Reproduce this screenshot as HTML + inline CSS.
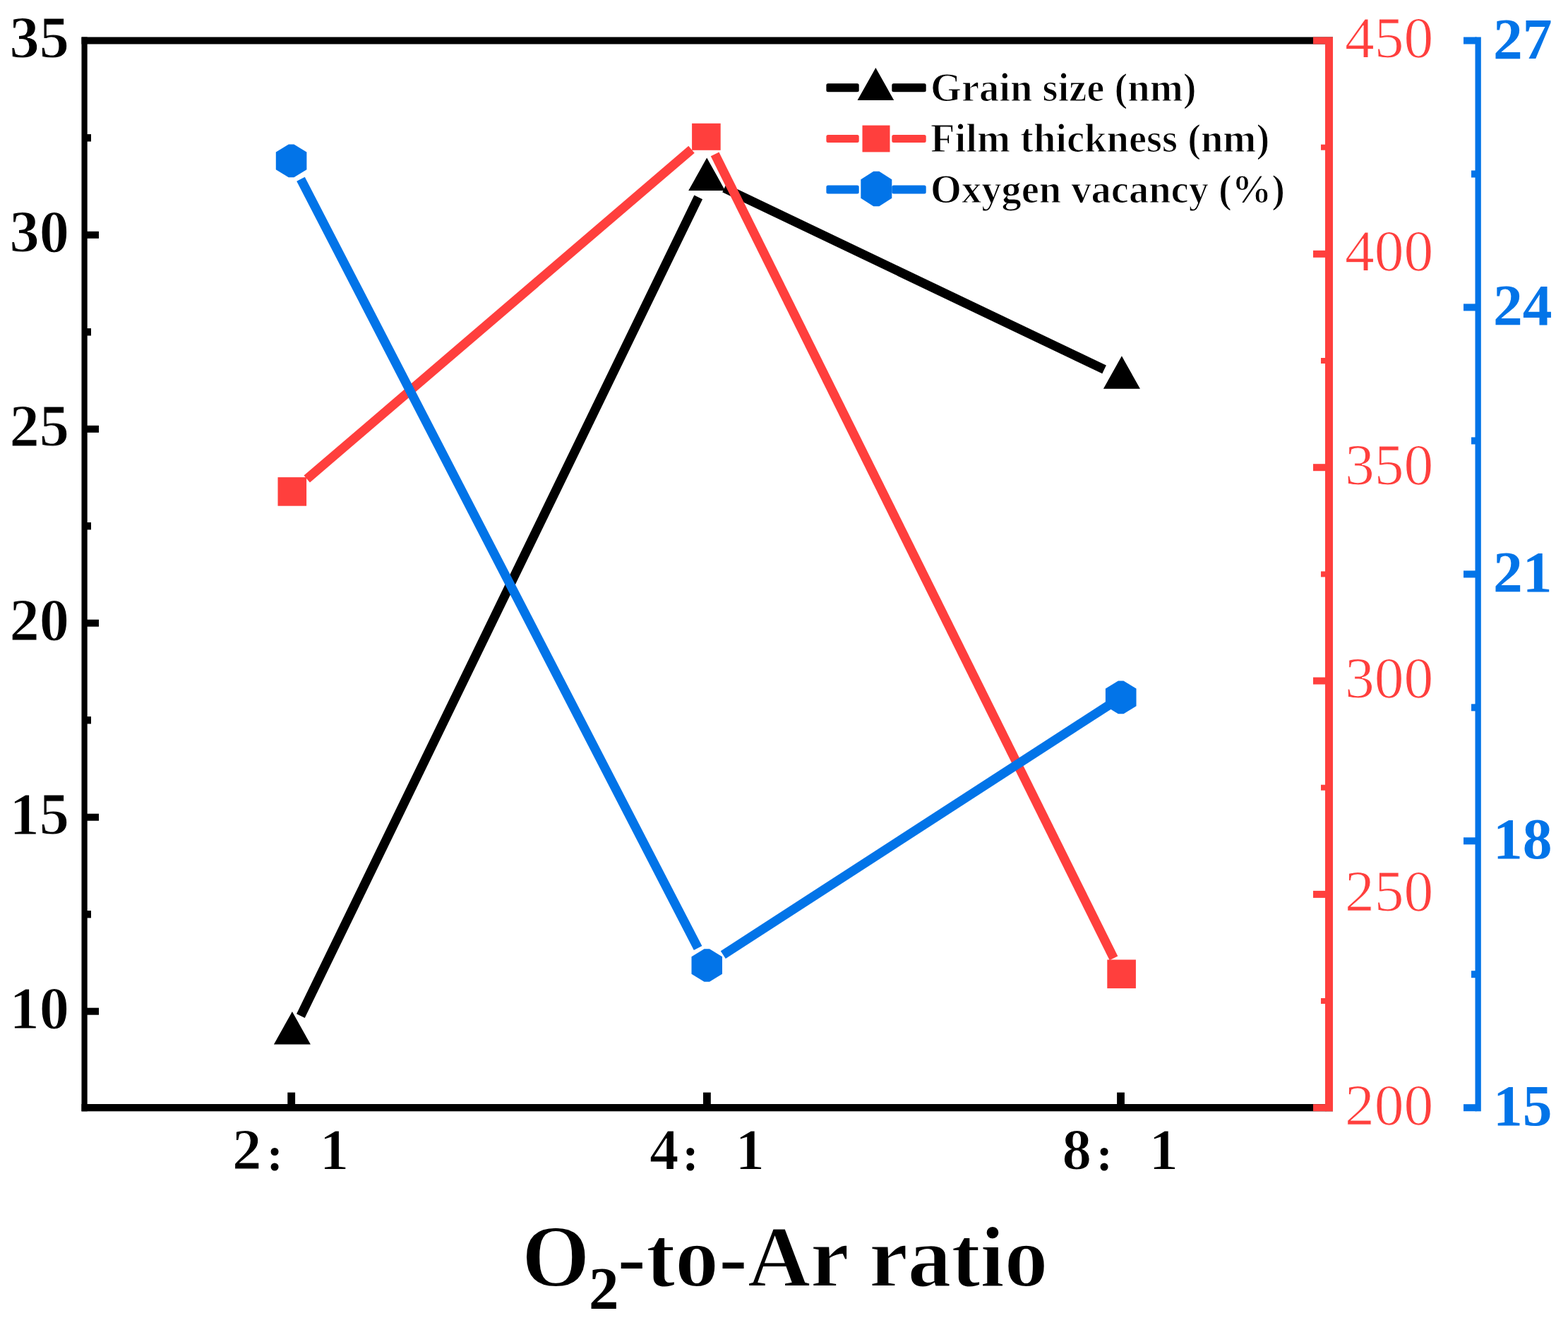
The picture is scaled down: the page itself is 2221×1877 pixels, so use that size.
<!DOCTYPE html><html><head><meta charset="utf-8"><title>O2-to-Ar ratio chart</title><style>html,body{margin:0;padding:0;background:#fff;}svg{display:block;}text{font-family:"Liberation Serif","Noto Serif CJK SC",serif;}</style></head><body>
<svg width="2221" height="1877" viewBox="0 0 2221 1877">
<rect x="0" y="0" width="2221" height="1877" fill="#fff"/>
<defs></defs>
<line x1="425.9" y1="1439.2" x2="989.2" y2="279.3" stroke="#000" stroke-width="13" stroke-linecap="butt"/>
<line x1="1026.0" y1="266.4" x2="1564.1" y2="523.4" stroke="#000" stroke-width="13" stroke-linecap="butt"/>
<line x1="434.7" y1="678.5" x2="979.5" y2="211.7" stroke="#FF3F3D" stroke-width="13" stroke-linecap="butt"/>
<line x1="1012.6" y1="218.4" x2="1577.5" y2="1357.4" stroke="#FF3F3D" stroke-width="13" stroke-linecap="butt"/>
<line x1="426.0" y1="253.7" x2="988.6" y2="1343.1" stroke="#0274E8" stroke-width="13" stroke-linecap="butt"/>
<line x1="1024.3" y1="1352.6" x2="1571.7" y2="998.2" stroke="#0274E8" stroke-width="13" stroke-linecap="butt"/>
<polygon points="413.9,1433.0 439.9,1479.4 387.9,1479.4" fill="#000"/>
<polygon points="1001.2,223.6 1027.2,270.0 975.2,270.0" fill="#000"/>
<polygon points="1588.9,504.3 1614.9,550.7 1562.9,550.7" fill="#000"/>
<rect x="393.5" y="676.1" width="40.6" height="40.6" fill="#FF3F3D"/>
<rect x="980.1" y="174.8" width="40.6" height="38.0" fill="#FF3F3D"/>
<rect x="1568.3" y="1359.5" width="40.6" height="40.6" fill="#FF3F3D"/>
<polygon points="408.8,204.6 416.4,204.6 434.4,215.6 434.4,240.2 416.4,251.2 408.8,251.2 390.8,240.2 390.8,215.6" fill="#0274E8"/>
<polygon points="997.5,1344.2 1005.0,1344.2 1023.0,1355.2 1023.0,1379.8 1005.0,1390.8 997.5,1390.8 979.5,1379.8 979.5,1355.2" fill="#0274E8"/>
<polygon points="1583.9,964.6 1591.5,964.6 1609.5,975.6 1609.5,1000.2 1591.5,1011.2 1583.9,1011.2 1565.9,1000.2 1565.9,975.6" fill="#0274E8"/>
<rect x="115.5" y="52.5" width="1772.5" height="10.0" fill="#000"/>
<rect x="115.5" y="1564.0" width="1772.5" height="10.3" fill="#000"/>
<rect x="115.5" y="52.5" width="8.2" height="1521.8" fill="#000"/>
<rect x="117.5" y="327.8" width="22.5" height="10.0" fill="#000"/>
<rect x="117.5" y="602.8" width="22.5" height="10.0" fill="#000"/>
<rect x="117.5" y="877.7" width="22.5" height="10.0" fill="#000"/>
<rect x="117.5" y="1152.7" width="22.5" height="10.0" fill="#000"/>
<rect x="117.5" y="1427.7" width="22.5" height="10.0" fill="#000"/>
<rect x="117.5" y="190.1" width="11.5" height="10.4" fill="#000"/>
<rect x="117.5" y="465.1" width="11.5" height="10.4" fill="#000"/>
<rect x="117.5" y="740.0" width="11.5" height="10.4" fill="#000"/>
<rect x="117.5" y="1015.0" width="11.5" height="10.4" fill="#000"/>
<rect x="117.5" y="1290.0" width="11.5" height="10.4" fill="#000"/>
<rect x="407.3" y="1547.6" width="10.8" height="18.4" fill="#000"/>
<rect x="996.0" y="1547.6" width="10.8" height="18.4" fill="#000"/>
<rect x="1582.1" y="1547.6" width="10.8" height="18.4" fill="#000"/>
<rect x="1877.0" y="52.5" width="11.0" height="1521.8" fill="#FF3F3D"/>
<rect x="1860.0" y="52.5" width="19.0" height="10.0" fill="#FF3F3D"/>
<rect x="1860.0" y="354.8" width="19.0" height="10.0" fill="#FF3F3D"/>
<rect x="1860.0" y="657.2" width="19.0" height="10.0" fill="#FF3F3D"/>
<rect x="1860.0" y="959.5" width="19.0" height="10.0" fill="#FF3F3D"/>
<rect x="1860.0" y="1261.9" width="19.0" height="10.0" fill="#FF3F3D"/>
<rect x="1860.0" y="1564.2" width="19.0" height="10.0" fill="#FF3F3D"/>
<rect x="1871.0" y="204.7" width="8.0" height="8.0" fill="#FF3F3D"/>
<rect x="1871.0" y="507.0" width="8.0" height="8.0" fill="#FF3F3D"/>
<rect x="1871.0" y="809.4" width="8.0" height="8.0" fill="#FF3F3D"/>
<rect x="1871.0" y="1111.7" width="8.0" height="8.0" fill="#FF3F3D"/>
<rect x="1871.0" y="1414.0" width="8.0" height="8.0" fill="#FF3F3D"/>
<rect x="2089.5" y="52.5" width="8.3" height="1521.8" fill="#0274E8"/>
<rect x="2073.0" y="52.5" width="18.5" height="10.0" fill="#0274E8"/>
<rect x="2073.0" y="430.4" width="18.5" height="10.0" fill="#0274E8"/>
<rect x="2073.0" y="808.4" width="18.5" height="10.0" fill="#0274E8"/>
<rect x="2073.0" y="1186.3" width="18.5" height="10.0" fill="#0274E8"/>
<rect x="2073.0" y="1564.2" width="18.5" height="10.0" fill="#0274E8"/>
<rect x="2084.0" y="241.5" width="7.5" height="10.0" fill="#0274E8"/>
<rect x="2084.0" y="619.4" width="7.5" height="10.0" fill="#0274E8"/>
<rect x="2084.0" y="997.3" width="7.5" height="10.0" fill="#0274E8"/>
<rect x="2084.0" y="1375.2" width="7.5" height="10.0" fill="#0274E8"/>
<text x="98.1" y="81.8" font-size="84.5" font-weight="bold" text-anchor="end" fill="#000" stroke="#fff" stroke-width="1.2">35</text>
<text x="98.1" y="356.8" font-size="84.5" font-weight="bold" text-anchor="end" fill="#000" stroke="#fff" stroke-width="1.2">30</text>
<text x="98.1" y="631.8" font-size="84.5" font-weight="bold" text-anchor="end" fill="#000" stroke="#fff" stroke-width="1.2">25</text>
<text x="98.1" y="906.7" font-size="84.5" font-weight="bold" text-anchor="end" fill="#000" stroke="#fff" stroke-width="1.2">20</text>
<text x="98.1" y="1181.7" font-size="84.5" font-weight="bold" text-anchor="end" fill="#000" stroke="#fff" stroke-width="1.2">15</text>
<text x="98.1" y="1456.7" font-size="84.5" font-weight="bold" text-anchor="end" fill="#000" stroke="#fff" stroke-width="1.2">10</text>
<text x="1905.0" y="81.0" font-size="83.5" fill="#FF3F3D" stroke="#fff" stroke-width="1">450</text>
<text x="1905.0" y="383.3" font-size="83.5" fill="#FF3F3D" stroke="#fff" stroke-width="1">400</text>
<text x="1905.0" y="685.7" font-size="83.5" fill="#FF3F3D" stroke="#fff" stroke-width="1">350</text>
<text x="1905.0" y="988.0" font-size="83.5" fill="#FF3F3D" stroke="#fff" stroke-width="1">300</text>
<text x="1905.0" y="1290.4" font-size="83.5" fill="#FF3F3D" stroke="#fff" stroke-width="1">250</text>
<text x="1905.0" y="1592.7" font-size="83.5" fill="#FF3F3D" stroke="#fff" stroke-width="1">200</text>
<text x="2115.0" y="82.5" font-size="83.5" font-weight="bold" fill="#0274E8">27</text>
<text x="2115.0" y="460.4" font-size="83.5" font-weight="bold" fill="#0274E8">24</text>
<text x="2115.0" y="838.4" font-size="83.5" font-weight="bold" fill="#0274E8">21</text>
<text x="2115.0" y="1216.3" font-size="83.5" font-weight="bold" fill="#0274E8">18</text>
<text x="2115.0" y="1594.2" font-size="83.5" font-weight="bold" fill="#0274E8">15</text>
<text y="1656.0" font-size="83" font-weight="bold" fill="#000" stroke="#fff" stroke-width="1.2"><tspan x="329.0">2</tspan><tspan x="378.1" dy="2" font-size="68" stroke="none">:</tspan><tspan x="452.8" dy="-2">1</tspan></text>
<text y="1656.0" font-size="83" font-weight="bold" fill="#000" stroke="#fff" stroke-width="1.2"><tspan x="920.0">4</tspan><tspan x="966.8" dy="2" font-size="68" stroke="none">:</tspan><tspan x="1041.5" dy="-2">1</tspan></text>
<text y="1656.0" font-size="83" font-weight="bold" fill="#000" stroke="#fff" stroke-width="1.2"><tspan x="1504.5">8</tspan><tspan x="1552.9" dy="2" font-size="68" stroke="none">:</tspan><tspan x="1627.5" dy="-2">1</tspan></text>
<text y="1821.5" font-size="124" font-weight="bold" fill="#000" stroke="#fff" stroke-width="1.8"><tspan x="739.1">O</tspan><tspan x="834.0" y="1853.7" font-size="85" stroke="none">2</tspan><tspan x="874.3" y="1821.5" font-size="123.2">-to-Ar ratio</tspan></text>
<rect x="1170.4" y="118.3" width="46.3" height="12.0" rx="2.5" fill="#000"/>
<rect x="1263.3" y="118.3" width="48.4" height="12.0" rx="2.5" fill="#000"/>
<polygon points="1240.4,96.0 1266.2,142.0 1214.6,142.0" fill="#000"/>
<text x="1318.0" y="142.6" font-size="56.5" font-weight="bold" fill="#000" stroke="#fff" stroke-width="1.2">Grain size (nm)</text>
<rect x="1170.4" y="190.9" width="46.3" height="11.0" rx="2.5" fill="#FF3F3D"/>
<rect x="1263.3" y="190.9" width="48.4" height="11.0" rx="2.5" fill="#FF3F3D"/>
<rect x="1221.5" y="177.6" width="39.0" height="37.8" fill="#FF3F3D"/>
<text x="1318.0" y="214.7" font-size="56.5" font-weight="bold" fill="#000" stroke="#fff" stroke-width="1.2">Film thickness (nm)</text>
<rect x="1170.4" y="262.4" width="46.3" height="12.0" rx="2.5" fill="#0274E8"/>
<rect x="1263.3" y="262.4" width="48.4" height="12.0" rx="2.5" fill="#0274E8"/>
<polygon points="1237.3,242.8 1245.3,242.8 1263.3,254.3 1263.3,280.7 1245.3,292.2 1237.3,292.2 1219.3,280.7 1219.3,254.3" fill="#0274E8"/>
<text x="1318.0" y="286.7" font-size="56.5" font-weight="bold" fill="#000" stroke="#fff" stroke-width="1.2">Oxygen vacancy (%)</text>
</svg></body></html>
